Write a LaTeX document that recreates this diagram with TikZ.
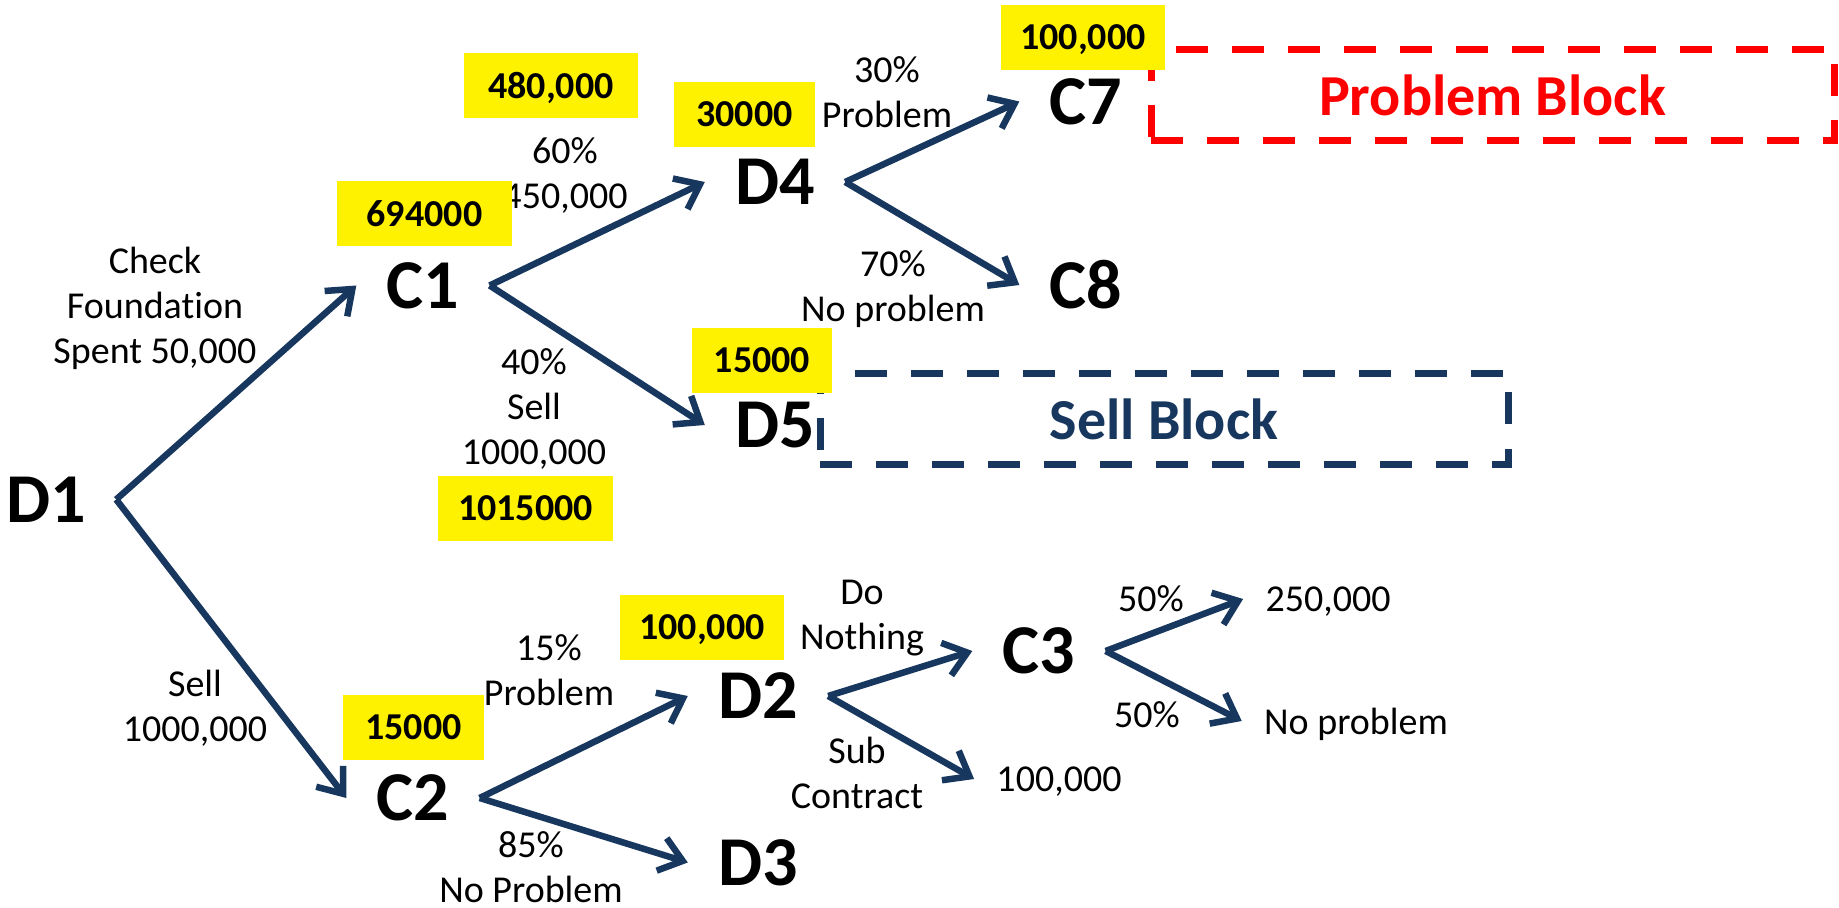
\documentclass[tikz,border=0pt]{standalone}
\usepackage{fontspec}
\setmainfont{Carlito}[Ligatures=NoCommon]
\usetikzlibrary{arrows.meta}
\definecolor{navy}{RGB}{23,55,94}

\begin{document}
\begin{tikzpicture}[x=0.5pt,y=-0.5pt,
        nd/.style={font=\fontsize{35}{42}\selectfont\bfseries,
                        inner xsep=15pt, inner ysep=0pt},
        lf/.style={font=\fontsize{19}{22.5}\selectfont,
                        inner xsep=11pt, inner ysep=0pt, text depth=0pt},
        lb/.style={font=\fontsize{19}{22.5}\selectfont,
                        align=center, inner sep=0pt},
        yb/.style={fill=yellow, font=\fontsize{19}{22}\selectfont\bfseries,
                        minimum height=32.5pt, text depth=0pt, inner sep=0pt},
        blk/.style={draw, dash pattern=on 16pt off 12pt, line width=3.5pt,
                        font=\fontsize{29}{34}\selectfont\bfseries,
                        minimum height=45.5pt, inner sep=0pt},
        ar/.style={navy, line width=3.25pt,
                        -{Straight Barb[length=11pt,width=17pt]}}]
    \useasboundingbox (0,0) rectangle (1839,908);
    % decision and chance nodes
    \node[nd] (d1) at (46,499.5) {D1};
    \node[nd] (c1) at (423,285.5) {C1};
    \node[nd] (c2) at (413,798) {C2};
    \node[nd] (d4) at (775,182) {D4};
    \node[nd] (d5) at (775,425) {D5};
    \node[nd] (c7) at (1086,101.5) {C7};
    \node[nd] (c8) at (1086,285) {C8};
    \node[nd] (d2) at (758,696) {D2};
    \node[nd] (d3) at (758,862.5) {D3};
    \node[nd] (c3) at (1039,651) {C3};
    % outcomes
    \node[lf] (o250) at (1328,599) {250,000};
    \node[lf] (onp) at (1356,721) {No problem};
    \node[lf] (o100) at (1059,779) {100,000};
    % branch labels
    \node[lb] (l1) at (155,308) {Check\\Foundation\\Spent 50,000};
    \node[lb] (l2) at (195,708.5) {Sell\\1000,000};
    \node[lb] (l3) at (565,175) {60\%\\450,000};
    \node[lb] (l4) at (534,409) {40\%\\Sell\\1000,000};
    \node[lb] (l5) at (887,92.5) {30\%\\Problem};
    \node[lb] (l6) at (893,289) {70\%\\No problem};
    \node[lb] (l7) at (549,670) {15\%\\Problem};
    \node[lb] (l8) at (531,867.5) {85\%\\No Problem};
    \node[lb] (l9) at (862,618) {Do\\Nothing};
    \node[lb] (l10) at (857,773) {Sub\\Contract};
    \node[lb] (l11) at (1151,598.5) {50\%};
    \node[lb] (l12) at (1147,714.5) {50\%};
    % blocks
    \node[blk, red, minimum width=341.5pt] (pblk) at (1492.5,95.5)
        {Problem Block};
    \node[blk, navy, minimum width=344pt] (sblk) at (1164,419)
        {Sell Block};
    % values
    \node[yb, minimum width=87pt] (v1) at (551,85.5) {480,000};
    \node[yb, minimum width=87.5pt] (v2) at (424.5,213.5) {694000};
    \node[yb, minimum width=87.5pt] (v3) at (525.5,508.5) {1015000};
    \node[yb, minimum width=70.5pt] (v4) at (744.5,114.5) {30000};
    \node[yb, minimum width=82pt] (v5) at (1083,37.5) {100,000};
    \node[yb, minimum width=70pt] (v6) at (762,360.5) {15000};
    \node[yb, minimum width=70.5pt] (v7) at (413.5,727) {15000};
    \node[yb, minimum width=82pt] (v8) at (702,627) {100,000};
    % branches
    \draw[ar] (d1.east) -- (c1.west);
    \draw[ar] (d1.east) -- (c2.west);
    \draw[ar] (c1.east) -- (d4.west);
    \draw[ar] (c1.east) -- (d5.west);
    \draw[ar] (d4.east) -- (c7.west);
    \draw[ar] (d4.east) -- (c8.west);
    \draw[ar] (c2.east) -- (d2.west);
    \draw[ar] (c2.east) -- (d3.west);
    \draw[ar] (d2.east) -- (c3.west);
    \draw[ar] (d2.east) -- (o100.west);
    \draw[ar] (c3.east) -- (o250.west);
    \draw[ar] (c3.east) -- (onp.west);
\end{tikzpicture}
\end{document}
